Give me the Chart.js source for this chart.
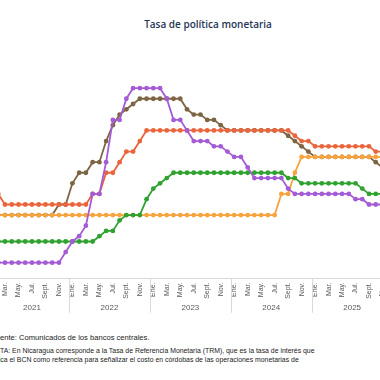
<!DOCTYPE html>
<html lang="es">
<head>
<meta charset="utf-8">
<title>Tasa de política monetaria</title>
<script src="https://cdn.jsdelivr.net/npm/chart.js@4.4.1/dist/chart.umd.min.js"></script>
<style>
  html, body { margin: 0; padding: 0; background: #fff; }
  body { width: 380px; height: 380px; overflow: hidden; position: relative; }
  #titulo { position: absolute; left: 208px; top: 17px; transform: translateX(-50%); font: 600 10px 'Open Sans', sans-serif; color: #1f3555; white-space: nowrap; }
  #contenedor { position: absolute; left: -20px; top: 0; width: 420px; height: 320px; }
  .nota { position: absolute; font-family: 'Liberation Sans', Arial, sans-serif; color: #1a1a1a; white-space: nowrap; }
</style>
</head>
<body>
<div id="titulo">Tasa de política monetaria</div>
<div id="contenedor"><canvas id="grafico"></canvas></div>
<div class="nota" style="left:-8.8px; top:333px; font-size:7.6px; line-height:10px;">Fuente: Comunicados de los bancos centrales.</div>
<div class="nota" style="left:-10.4px; top:345.5px; font-size:6.9px; line-height:9.3px;">NOTA: En Nicaragua corresponde a la Tasa de Referencia Monetaria (TRM), que es la tasa de interés que<br>aplica el BCN como referencia para señalizar el costo en córdobas de las operaciones monetarias de</div>
<script>
// meses de feb. 2021 a dic. 2025
const mesesCortos = ['Ene.', 'Feb.', 'Mar.', 'Abr.', 'May.', 'Jun.', 'Jul.', 'Ago.', 'Sept.', 'Oct.', 'Nov.', 'Dic.'];
const anios = [2021, 2022, 2023, 2024, 2025];
const mesInicial = 1; // la serie empieza en febrero de 2021

// tasas en %, una por mes
const costaRica = [
  0.75, 0.75, 0.75, 0.75, 0.75, 0.75, 0.75, 0.75, 0.75, 0.75, 1.25,
  1.75, 2.0, 2.5, 4.0, 4.0, 5.5, 7.5, 7.5, 8.5, 9.0, 9.0, 9.0,
  9.0, 9.0, 8.5, 7.5, 7.5, 7.0, 6.5, 6.5, 6.5, 6.25, 6.25, 6.0,
  5.75, 5.75, 5.25, 4.75, 4.75, 4.75, 4.75, 4.75, 4.25, 4.0, 4.0, 4.0,
  4.0, 4.0, 4.0, 4.0, 4.0, 4.0, 3.75, 3.75, 3.5, 3.5, 3.5, 3.5
];
const republicaDominicana = [
  3.0, 3.0, 3.0, 3.0, 3.0, 3.0, 3.0, 3.0, 3.0, 3.5, 3.5,
  4.5, 5.0, 5.0, 5.5, 5.5, 6.5, 7.25, 7.75, 8.0, 8.25, 8.5, 8.5,
  8.5, 8.5, 8.5, 8.5, 8.5, 8.0, 7.75, 7.75, 7.5, 7.5, 7.25, 7.0,
  7.0, 7.0, 7.0, 7.0, 7.0, 7.0, 7.0, 7.0, 6.75, 6.5, 6.25, 6.0,
  5.75, 5.75, 5.75, 5.75, 5.75, 5.75, 5.75, 5.75, 5.75, 5.5, 5.25, 5.25
];
const nicaragua = [
  4.0, 3.5, 3.5, 3.5, 3.5, 3.5, 3.5, 3.5, 3.5, 3.5, 3.5,
  3.5, 3.5, 3.5, 4.0, 4.0, 5.0, 5.0, 5.5, 6.0, 6.0, 6.5, 7.0,
  7.0, 7.0, 7.0, 7.0, 7.0, 7.0, 7.0, 7.0, 7.0, 7.0, 7.0, 7.0,
  7.0, 7.0, 7.0, 7.0, 7.0, 7.0, 7.0, 7.0, 7.0, 6.75, 6.5, 6.5,
  6.25, 6.25, 6.25, 6.25, 6.25, 6.25, 6.25, 6.25, 6.25, 6.0, 6.0, 6.0
];
const guatemala = [
  1.75, 1.75, 1.75, 1.75, 1.75, 1.75, 1.75, 1.75, 1.75, 1.75, 1.75,
  1.75, 1.75, 1.75, 1.75, 2.0, 2.25, 2.25, 2.75, 3.0, 3.0, 3.0, 3.75,
  4.25, 4.5, 4.75, 5.0, 5.0, 5.0, 5.0, 5.0, 5.0, 5.0, 5.0, 5.0,
  5.0, 5.0, 5.0, 5.0, 5.0, 5.0, 5.0, 5.0, 4.75, 4.75, 4.5, 4.5,
  4.5, 4.5, 4.5, 4.5, 4.5, 4.5, 4.5, 4.25, 4.0, 4.0, 4.0, 4.0
];
const honduras = [
  3.0, 3.0, 3.0, 3.0, 3.0, 3.0, 3.0, 3.0, 3.0, 3.0, 3.0,
  3.0, 3.0, 3.0, 3.0, 3.0, 3.0, 3.0, 3.0, 3.0, 3.0, 3.0, 3.0,
  3.0, 3.0, 3.0, 3.0, 3.0, 3.0, 3.0, 3.0, 3.0, 3.0, 3.0, 3.0,
  3.0, 3.0, 3.0, 3.0, 3.0, 3.0, 3.0, 4.0, 4.0, 5.0, 5.75, 5.75,
  5.75, 5.75, 5.75, 5.75, 5.75, 5.75, 5.75, 5.75, 5.75, 5.75, 5.75, 5.75
];

const meses = [];
const aniosMes = [];
for (let i = 0; i < costaRica.length; i++) {
  const m = mesInicial + i;
  meses.push(mesesCortos[m % 12]);
  aniosMes.push(anios[0] + Math.floor(m / 12));
}

const serie = (label, data, color) => ({
  label, data,
  borderColor: color,
  backgroundColor: color,
  pointBackgroundColor: color,
  borderWidth: 1.8,
  pointRadius: 2.4,
  pointBorderWidth: 0,
  tension: 0
});

// separadores y rótulos de año bajo el eje
const rotulosAnio = {
  id: 'rotulosAnio',
  afterDraw(chart) {
    const { ctx, chartArea, scales: { x } } = chart;
    const paso = x.getPixelForValue(1) - x.getPixelForValue(0);
    const y0 = chartArea.bottom;
    ctx.save();
    ctx.strokeStyle = '#d9d9d9';
    ctx.lineWidth = 1;
    ctx.fillStyle = '#595959';
    ctx.font = "8px 'Liberation Sans', Arial, sans-serif";
    ctx.textAlign = 'center';
    ctx.textBaseline = 'middle';
    anios.forEach(anio => {
      const primero = aniosMes.indexOf(anio);
      const ultimo = aniosMes.lastIndexOf(anio);
      if (primero < 0) return;
      const xa = x.getPixelForValue(primero) - paso / 2;
      const xb = x.getPixelForValue(ultimo) + paso / 2;
      [xa, xb].forEach(px => {
        ctx.beginPath();
        ctx.moveTo(Math.round(px) + 0.5, y0);
        ctx.lineTo(Math.round(px) + 0.5, y0 + 34);
        ctx.stroke();
      });
      ctx.fillText(String(anio), (xa + xb) / 2, y0 + 29);
    });
    ctx.restore();
  }
};

const ctx = document.getElementById('grafico').getContext('2d');
new Chart(ctx, {
  type: 'line',
  data: {
    labels: meses,
    datasets: [
      serie('Costa Rica', costaRica, '#a45bd5'),
      serie('Guatemala', guatemala, '#2fa22f'),
      serie('Nicaragua', nicaragua, '#e9653b'),
      serie('Honduras', honduras, '#f7a33e'),
      serie('República Dominicana', republicaDominicana, '#7d6442')
    ]
  },
  options: {
    responsive: true,
    maintainAspectRatio: false,
    animation: false,
    layout: { padding: { left: 14.9, right: 7.4, top: 67, bottom: 7.5 } },
    plugins: {
      legend: { display: false },
      tooltip: { enabled: false }
    },
    scales: {
      x: {
        offset: true,
        grid: { display: false, drawTicks: false },
        border: { display: true, color: '#d9d9d9', width: 1 },
        ticks: {
          autoSkip: false,
          minRotation: 90,
          maxRotation: 90,
          padding: 4,
          color: '#595959',
          font: { family: "'Liberation Sans', Arial, sans-serif", size: 7 },
          callback: (v, i) => (mesInicial + i) % 2 === 0 ? meses[i] : ''
        },
        afterFit: (scale) => {
          scale.height = 34;
          scale.paddingLeft = 0;
          scale.paddingRight = 0;
        }
      },
      y: {
        display: false,
        min: 0,
        max: 10
      }
    }
  },
  plugins: [rotulosAnio]
});
</script>
</body>
</html>
